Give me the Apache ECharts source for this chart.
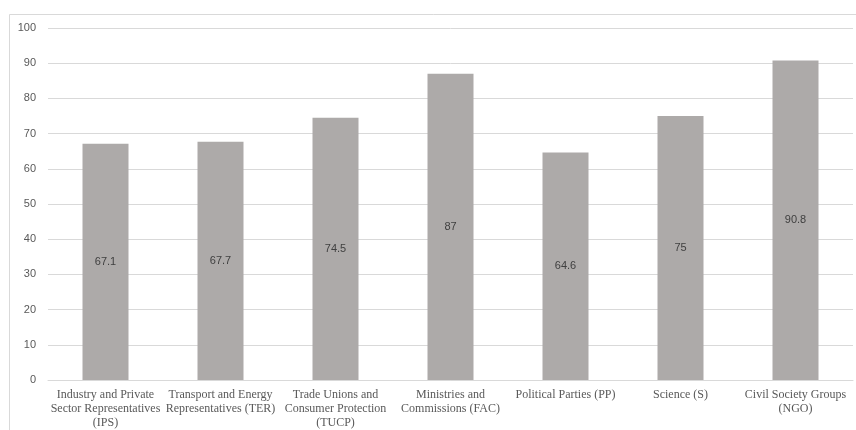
<!DOCTYPE html>
<html>
<head>
<meta charset="utf-8">
<script src="https://cdn.jsdelivr.net/npm/echarts@6/dist/echarts.min.js"></script>
<style>
  html, body { margin: 0; padding: 0; background: #fff; }
  #chart { width: 856px; height: 430px; }
</style>
</head>
<body>
<div id="chart"></div>
<script>
// Stakeholder groups (axis labels wrap onto several lines)
const categories = [
  'Industry and Private\nSector Representatives\n(IPS)',
  'Transport and Energy\nRepresentatives (TER)',
  'Trade Unions and\nConsumer Protection\n(TUCP)',
  'Ministries and\nCommissions (FAC)',
  'Political Parties (PP)',
  'Science (S)',
  'Civil Society Groups\n(NGO)'
];
const values = [67.1, 67.7, 74.5, 87, 64.6, 75, 90.8];
const yTicks = { min: 0, max: 100, interval: 10 };

const chart = echarts.init(document.getElementById('chart'));
chart.setOption({
  animation: false,
  backgroundColor: '#ffffff',
  graphic: [{
    type: 'rect',
    shape: { x: 9.5, y: 14.5, width: 900, height: 500 },
    style: { fill: 'none', stroke: '#d9d9d9', lineWidth: 1 },
    silent: true
  }],
  grid: { left: 48, right: 3, top: 28, bottom: 49, containLabel: false },
  xAxis: {
    type: 'category',
    data: categories,
    axisTick: { show: false },
    axisLine: { show: true, lineStyle: { color: '#d9d9d9', width: 1 } },
    axisLabel: {
      interval: 0,
      margin: 8,
      color: '#595959',
      fontFamily: 'Liberation Serif',
      fontSize: 12,
      lineHeight: 14
    }
  },
  yAxis: {
    type: 'value',
    min: yTicks.min,
    max: yTicks.max,
    interval: yTicks.interval,
    axisLine: { show: false },
    axisTick: { show: false },
    axisLabel: {
      color: '#595959',
      fontFamily: 'Liberation Sans',
      fontSize: 11,
      margin: 12
    },
    splitLine: { lineStyle: { color: '#d9d9d9', width: 1 } }
  },
  series: [{
    type: 'bar',
    data: values,
    barWidth: '40%',
    itemStyle: { color: '#adaaa9' },
    label: {
      show: true,
      position: 'inside',
      color: '#404040',
      fontFamily: 'Liberation Sans',
      fontSize: 11
    }
  }]
});
</script>
</body>
</html>
